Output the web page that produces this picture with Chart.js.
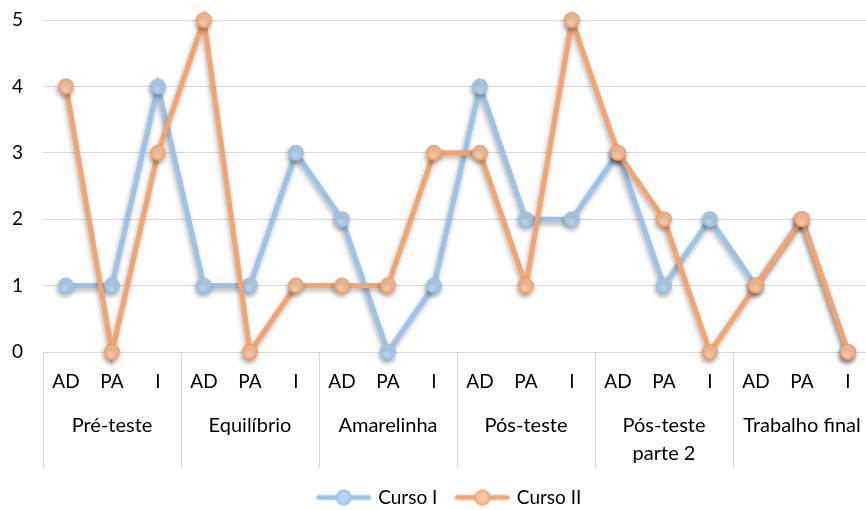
<!DOCTYPE html>
<html>
  <head>
    <meta charset="UTF-8">
    <title>Curso I x Curso II</title>
    <script src="https://cdn.jsdelivr.net/npm/chart.js@4.4.1/dist/chart.umd.min.js"></script>
    <style>
      html, body {
        margin: 0;
        padding: 0;
        background: #fff;
        overflow: hidden;
      }
      .chartWrapper {
        width: 880px;
        height: 517px;
      }
    </style>
  </head>
  <body>
    <div class="chartWrapper">
      <canvas id="chartCursos" width="880" height="517"></canvas>
    </div>

    <script>
      const groups = ['Pré-teste', 'Equilíbrio', 'Amarelinha', 'Pós-teste', ['Pós-teste', 'parte 2'], 'Trabalho final'];
      const subLabels = ['AD', 'PA', 'I'];
      const yTicks = [0, 1, 2, 3, 4, 5];

      const cursoI  = [1, 1, 4,  1, 1, 3,  2, 0, 1,  4, 2, 2,  3, 1, 2,  1, 2, 0];
      const cursoII = [4, 0, 3,  5, 0, 1,  1, 1, 3,  3, 1, 5,  3, 2, 0,  1, 2, 0];

      const blueLine = '#9DC3E6';
      const blueFill = '#B8D3EE';
      const orangeLine = '#F4A46C';
      const orangeFill = '#F8C8A6';

      const labels = [];
      for (let g of groups) {
        for (let s of subLabels) {
          labels.push(s);
        }
      }

      // legend marker: short line with a circle in the middle
      function legendMarker(line, fill) {
        const c = document.createElement('canvas');
        c.width = 56;
        c.height = 18;
        const ctx = c.getContext('2d');
        ctx.strokeStyle = line;
        ctx.lineWidth = 5;
        ctx.lineCap = 'round';
        ctx.beginPath();
        ctx.moveTo(3, 9);
        ctx.lineTo(53, 9);
        ctx.stroke();
        ctx.fillStyle = fill;
        ctx.lineWidth = 2;
        ctx.beginPath();
        ctx.arc(28, 9, 7, 0, Math.PI * 2);
        ctx.fill();
        ctx.stroke();
        return c;
      }

      const groupLines = {
        id: 'groupLines',
        afterDraw(chart) {
          const x = chart.scales.x;
          const ctx = chart.ctx;
          const half = (x.getPixelForValue(1) - x.getPixelForValue(0)) / 2;
          ctx.save();
          ctx.strokeStyle = '#d9d9d9';
          ctx.lineWidth = 1;
          for (let i = 0; i <= labels.length; i += 3) {
            const px = Math.round(x.getPixelForValue(i) - half) + 0.5;
            ctx.beginPath();
            ctx.moveTo(px, chart.chartArea.bottom);
            ctx.lineTo(px, chart.chartArea.bottom + 116);
            ctx.stroke();
          }
          ctx.restore();
        }
      };

      const lineShadow = {
        id: 'lineShadow',
        beforeDatasetsDraw(chart) {
          const ctx = chart.ctx;
          ctx.save();
          ctx.shadowColor = 'rgba(0, 0, 0, 0.3)';
          ctx.shadowBlur = 5;
          ctx.shadowOffsetX = -1;
          ctx.shadowOffsetY = 3;
        },
        afterDatasetsDraw(chart) {
          chart.ctx.restore();
        }
      };

      // the legend sits a bit right of the canvas centre in the original
      const legendShift = {
        id: 'legendShift',
        afterLayout(chart) {
          chart.legend.left += 6;
          chart.legend.right += 6;
        }
      };

      const fontFamily = 'Lato, "Open Sans", sans-serif';

      new Chart(document.getElementById('chartCursos'), {
        type: 'line',
        data: {
          labels: labels,
          datasets: [{
            label: 'Curso I',
            data: cursoI,
            borderColor: blueLine,
            backgroundColor: blueFill,
            pointBackgroundColor: blueFill,
            pointBorderColor: blueLine,
            borderWidth: 5,
            pointRadius: 7,
            pointBorderWidth: 2,
            tension: 0,
            clip: false,
            order: 1,
          }, {
            label: 'Curso II',
            data: cursoII,
            borderColor: orangeLine,
            backgroundColor: orangeFill,
            pointBackgroundColor: orangeFill,
            pointBorderColor: orangeLine,
            borderWidth: 5,
            pointRadius: 7,
            pointBorderWidth: 2,
            tension: 0,
            clip: false,
            order: 0,
          }]
        },
        options: {
          responsive: false,
          animation: false,
          layout: {
            padding: { top: 20, right: 4, left: 12, bottom: 0 }
          },
          scales: {
            y: {
              min: 0,
              max: 5,
              afterFit: (scale) => { scale.width = 31; },
              afterBuildTicks: (scale) => { scale.ticks = yTicks.map(v => ({ value: v })); },
              grid: {
                color: '#d9d9d9',
                lineWidth: 1,
                drawTicks: false,
              },
              border: { display: false },
              ticks: {
                padding: 0,
                crossAlign: 'far',
                color: '#000',
                font: { family: fontFamily, size: 19 },
              }
            },
            x: {
              offset: true,
              afterFit: (scale) => { scale.height = 45; },
              grid: { display: false, drawTicks: false },
              border: { display: false },
              ticks: {
                autoSkip: false,
                maxRotation: 0,
                padding: 18,
                color: '#000',
                font: { family: fontFamily, size: 19 },
              }
            },
            x2: {
              type: 'category',
              labels: groups,
              position: 'bottom',
              offset: true,
              afterFit: (scale) => { scale.height = 71; },
              grid: { display: false, drawTicks: false },
              border: { display: false },
              ticks: {
                autoSkip: false,
                maxRotation: 0,
                padding: 15,
                color: '#000',
                font: { family: fontFamily, size: 20, lineHeight: 1.4 },
              }
            }
          },
          plugins: {
            legend: {
              position: 'bottom',
              labels: {
                usePointStyle: true,
                pointStyleWidth: 50,
                padding: 20,
                color: '#000',
                font: { family: fontFamily, size: 19 },
                generateLabels: (chart) => chart.data.datasets.map((ds, i) => ({
                  text: ds.label,
                  pointStyle: legendMarker(ds.borderColor, ds.pointBackgroundColor),
                  datasetIndex: i,
                  fontColor: '#000',
                  lineWidth: 0,
                  hidden: false,
                }))
              }
            },
            tooltip: { enabled: false },
          }
        },
        plugins: [groupLines, lineShadow, legendShift]
      });
    </script>
  </body>
</html>
